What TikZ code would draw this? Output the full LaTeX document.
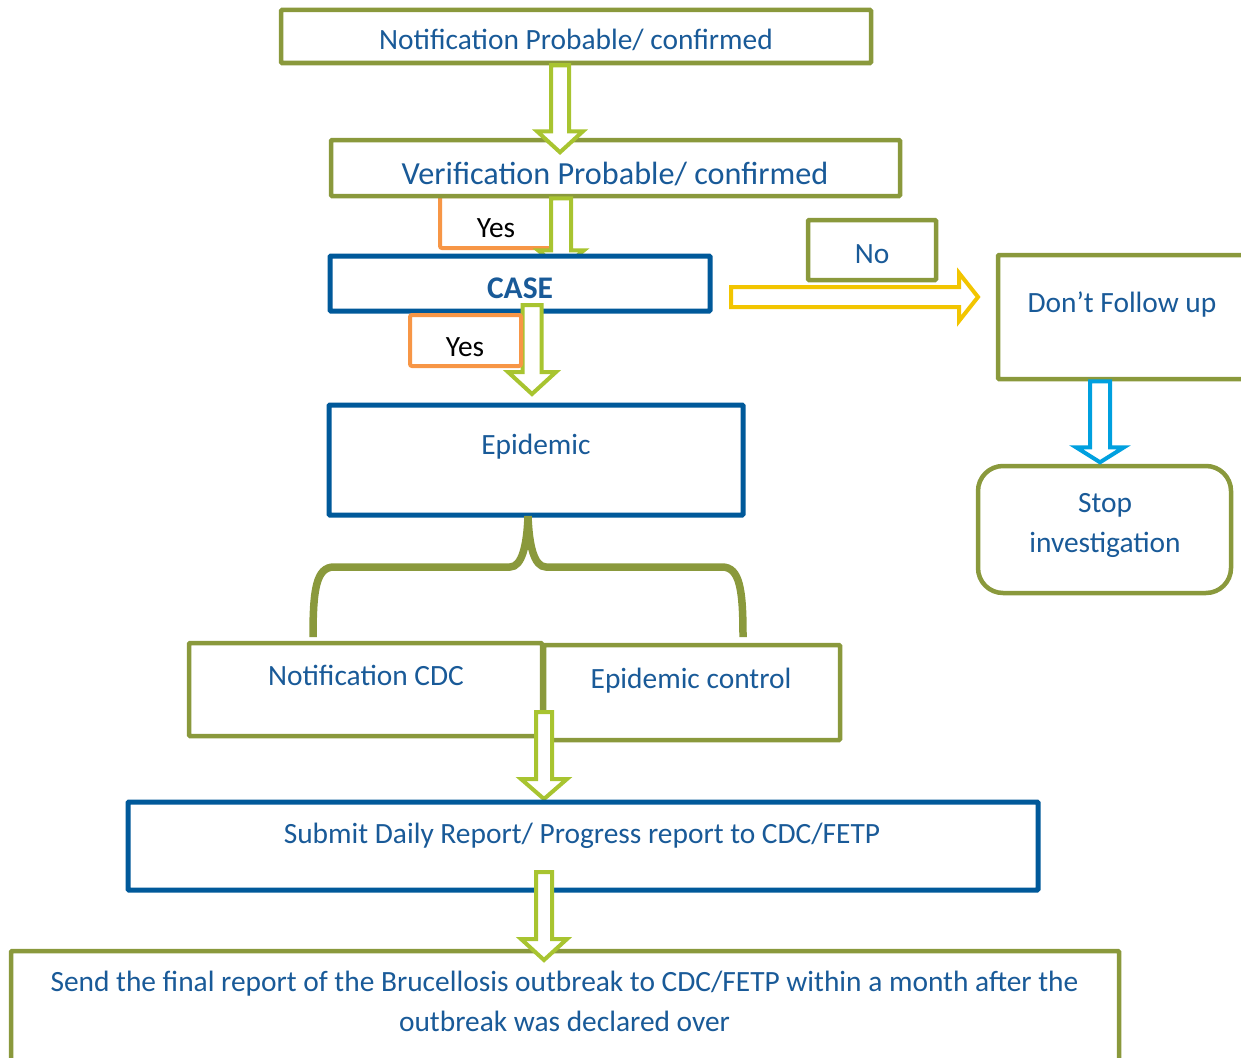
\documentclass[tikz,border=0pt]{standalone}
\usepackage{fontspec}
\setmainfont{Carlito}
\definecolor{olive}{RGB}{138,153,60}
\definecolor{boxblue}{RGB}{0,89,154}
\definecolor{txtblue}{RGB}{25,90,152}
\definecolor{yesorange}{RGB}{247,150,70}
\definecolor{leaf}{RGB}{168,196,48}
\definecolor{gold}{RGB}{242,197,0}
\definecolor{sky}{RGB}{0,160,223}
\tikzset{
  box/.style={rectangle, fill=white, inner sep=0pt, rounded corners=1pt},
  olivebox/.style={box, draw=olive, line width=4.5pt},
  bluebox/.style={box, draw=boxblue, line width=5pt},
  yesbox/.style={box, draw=yesorange, line width=4pt, rounded corners=2pt},
  txt/.style={text=txtblue, inner sep=0pt, anchor=base, font=\fontsize{29.4}{39.5}\selectfont},
  bigtxt/.style={txt, font=\fontsize{32.2}{40}\selectfont},
  bracestroke/.style={draw=olive, line width=7.5pt},
  % hollow block arrow pointing along +x: length, shaft half width, head half width, head length, colour
  pics/hollow arrow/.style n args={5}{code={
    \draw[line width=4pt, draw=#5, fill=white, line join=miter]
      (0,-#2) -- ({#1-#4},-#2) -- ({#1-#4},-#3) -- (#1,0) -- ({#1-#4},#3) -- ({#1-#4},#2) -- (0,#2) -- cycle;
  }}
}
\begin{document}
\begin{tikzpicture}[x=1pt,y=-1pt]
\useasboundingbox (0,0) rectangle (1241,1057);
\clip (0,0) rectangle (1241,1057);

% notification and verification
\node[olivebox, minimum width=590pt, minimum height=53pt] (notif) at (576,36.5) {};
\node[txt] (t-notif) at (576,49.5) {Notification Probable/ confirmed};
\node[yesbox, minimum width=112pt, minimum height=52pt] (yes1) at (496,222) {};
\node[olivebox, minimum width=569pt, minimum height=56pt] (verif) at (615.5,168) {};
\node[bigtxt] (t-verif) at (615,184) {Verification Probable/ confirmed};
\pic[rotate=-90] at (560,0 |- notif.south) {hollow arrow={87}{9}{23}{21}{leaf}};
\pic[rotate=-90] at (561,0 |- verif.south) {hollow arrow={71}{10}{23}{19}{leaf}};
\node[txt, text=black] (t-yes1) at (496,237) {Yes};

% case
\node[bluebox, minimum width=380pt, minimum height=55pt] (case) at (520,283.5) {};
\node[bigtxt, font=\bfseries\fontsize{31.5}{40}\selectfont] (t-case) at (520,298) {CASE};
\pic[rotate=-90] at (532,305) {hollow arrow={89}{9.5}{24}{22}{leaf}};
\node[yesbox, minimum width=111pt, minimum height=51pt] (yes2) at (465.5,340.5) {};
\node[txt, text=black] (t-yes2) at (465,356) {Yes};

% epidemic
\node[bluebox, minimum width=414pt, minimum height=110pt] (epi) at (536,460) {};
\node[txt] (t-epi) at (536,454) {Epidemic};

% negative branch
\node[olivebox, minimum width=128pt, minimum height=60pt] (no) at (872,250) {};
\node[txt] (t-no) at (872,263) {No};
\pic at (731,297) {hollow arrow={247}{10}{24}{19}{gold}};
\node[olivebox, minimum width=252pt, minimum height=124pt] (dont) at (1124,317) {};
\node[txt] (t-dont) at (1122,312) {Don’t Follow up};
\node[olivebox, minimum width=253pt, minimum height=127pt, rounded corners=25pt] (stop) at (1104.5,529.5) {};
\node[txt, align=center] (t-stop) at (1105,552) {Stop\\investigation};
\pic[rotate=-90] at (1100,0 |- dont.south) {hollow arrow={81}{10}{24}{15}{sky}};

% brace below the epidemic box
\draw[bracestroke] (313,637) .. controls (313,590) and (316,567) .. (334,567) -- (510,567)
  .. controls (522,567) and (527,545) .. (528,516);
\draw[bracestroke] (528,516) .. controls (529,545) and (534,567) .. (546,567) -- (722,567)
  .. controls (740,567) and (743,590) .. (743,637);

% actions
\node[olivebox, minimum width=296pt, minimum height=95pt] (ectl) at (692,692.5) {};
\node[olivebox, minimum width=353pt, minimum height=93pt] (ncdc) at (365.5,689.5) {};
\node[txt] (t-ncdc) at (366,685) {Notification CDC};
\node[txt] (t-ectl) at (691,688) {Epidemic control};
\pic[rotate=-90] at (544,712) {hollow arrow={87}{8}{23}{20}{leaf}};

% reporting
\node[bluebox, minimum width=910pt, minimum height=88pt] (submit) at (583,846) {};
\node[txt] (t-submit) at (582,843) {Submit Daily Report/ Progress report to CDC/FETP};
\node[olivebox, minimum width=1108pt, minimum height=114pt] (final) at (565,1008) {};
\node[txt, align=center] (t-final) at (564.5,1031) {Send the final report of the Brucellosis outbreak to CDC/FETP within a month after the\\outbreak was declared over};
\pic[rotate=-90] at (544,872) {hollow arrow={88}{8}{23}{21}{leaf}};
\end{tikzpicture}
\end{document}
